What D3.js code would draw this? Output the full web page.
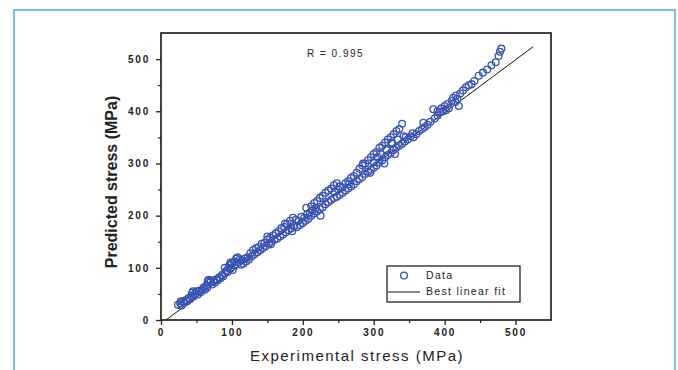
<!DOCTYPE html>
<html><head><meta charset="utf-8">
<script src="https://cdn.jsdelivr.net/npm/d3@7/dist/d3.min.js"></script>
<style>body{margin:0;background:#fff}svg{display:block}</style>
</head><body><svg id="c" width="678" height="370"></svg>
<script>
const expX = [24,27,29,31,33,35,37,39,41,43,44,46,48,50,52,54,56,58,60,
62,64,66,67,69,70,72,74,76,78,80,82,84,86,88,90,92,94,95,97,98,100,101,103,104,106,108,109,111,113,
114,116,118,120,122,124,126,128,130,132,134,136,138,140,142,144,146,148,150,152,154,156,158,160,
162,166,170,174,178,182,186,190,164,168,172,176,180,184,188,192,196,200,204,208,194,198,202,206,210,214,218,
212,216,220,224,228,232,236,240,244,248,252,212,216,220,224,228,232,236,240,244,248,252,256,260,264,268,272,276,280,256,260,264,268,272,276,
280,284,288,292,296,300,304,308,312,316,320,324,328,332,336,340,284,288,292,296,300,304,308,312,316,320,324,328,332,336,340,344,300,310,318,326,334,342,
348,352,356,360,364,368,372,376,380,384,386,390,394,398,400,404,406,410,412,416,418,420,422,
426,430,434,438,442,448,454,460,466,472,476,478,480,
28,45,65,90,98,150,155,175,185,205,225,245,250,265,285,295,305,315,325,330,345,355,370,390,402,415,395];
const predY = [29,32,28,35,33,38,36,42,40,47,52,45,50,55,49,56,53,58,62,
58,66,74,77,72,76,68,75,72,78,76,82,80,86,84,90,94,92,100,106,98,108,96,112,104,118,120,110,116,106,
114,108,118,112,120,116,128,122,134,126,138,130,140,134,146,138,148,142,154,146,158,150,162,154,
166,170,176,178,184,190,196,192,156,160,164,168,172,176,180,178,182,186,190,194,190,198,196,202,206,210,214,
218,224,228,234,238,244,248,252,258,262,256,200,204,208,212,216,222,226,230,234,236,240,244,248,252,256,260,266,270,254,262,266,272,276,282,
290,296,300,306,312,318,322,330,334,340,346,350,356,362,366,376,274,280,284,288,292,296,302,306,312,316,320,326,330,334,338,342,302,318,326,338,346,352,
346,352,350,356,362,366,370,374,380,404,386,392,398,400,410,414,406,420,426,430,424,410,434,
440,446,450,452,458,468,474,480,488,494,506,514,520,
36,55,62,100,110,160,145,185,170,215,200,245,250,260,300,282,312,300,340,318,350,358,378,400,402,418,405];
const fitX = [7, 525];
const fitY = [0, 524];
const xTicks = [0,100,200,300,400,500];
const yTicks = [0,100,200,300,400,500];
const minorTicks = [50,150,250,350,450];
const rLabel = "R = 0.995";
const legendLabels = ["Data","Best linear fit"];

const svg = d3.select("#c");
const L=161, R=551, T=33, B=320;
const x = d3.scaleLinear().domain([0,550]).range([L,R]);
const y = d3.scaleLinear().domain([0,550]).range([B,T]);

svg.append("rect").attr("x",14).attr("y",10).attr("width",661).attr("height",380)
  .attr("fill","none").attr("stroke","#62a8e2").attr("stroke-width",1.6);

const fnt = "Liberation Sans, Arial, sans-serif";

svg.append("rect").attr("x",L).attr("y",T).attr("width",R-L).attr("height",B-T)
  .attr("fill","none").attr("stroke","#222").attr("stroke-width",1.7);

const xa = svg.append("g").attr("transform",`translate(0,${B})`)
  .call(d3.axisBottom(x).tickValues(xTicks).tickSize(5).tickPadding(4).tickFormat(d3.format("d")));
xa.select(".domain").remove();
xa.selectAll("line").attr("stroke","#222").attr("stroke-width",1.3);
xa.selectAll("text").attr("font-family",fnt).attr("font-size",10).attr("font-weight","bold")
  .attr("letter-spacing","1.8px").attr("fill","#222");
const xm = svg.append("g").attr("transform",`translate(0,${B})`)
  .call(d3.axisBottom(x).tickValues(minorTicks).tickSize(3).tickFormat(""));
xm.select(".domain").remove();
xm.selectAll("line").attr("stroke","#222").attr("stroke-width",1.2);

const ya = svg.append("g").attr("transform",`translate(${L},0)`)
  .call(d3.axisLeft(y).tickValues(yTicks).tickSize(5).tickPadding(6).tickFormat(d3.format("d")));
ya.select(".domain").remove();
ya.selectAll("line").attr("stroke","#222").attr("stroke-width",1.3);
ya.selectAll("text").attr("font-family",fnt).attr("font-size",10).attr("font-weight","bold")
  .attr("letter-spacing","1.8px").attr("fill","#222");
const ym = svg.append("g").attr("transform",`translate(${L},0)`)
  .call(d3.axisLeft(y).tickValues(minorTicks).tickSize(3).tickFormat(""));
ym.select(".domain").remove();
ym.selectAll("line").attr("stroke","#222").attr("stroke-width",1.2);

svg.append("line").attr("x1",x(fitX[0])).attr("y1",y(fitY[0])).attr("x2",x(fitX[1])).attr("y2",y(fitY[1]))
  .attr("stroke","#111").attr("stroke-width",1);

const pts = expX.map((v,i)=>[v,predY[i]]);
svg.append("g").selectAll("circle").data(pts).join("circle")
  .attr("cx",d=>x(d[0])).attr("cy",d=>y(d[1])).attr("r",3.4)
  .attr("fill","none").attr("stroke","#3853b2").attr("stroke-width",1.3);

svg.append("text").attr("x",307).attr("y",57).text(rLabel)
  .attr("font-family",fnt).attr("font-size",10).attr("letter-spacing","1.5px").attr("fill","#222");

const lg = svg.append("g");
lg.append("rect").attr("x",387).attr("y",266).attr("width",133).attr("height",36)
  .attr("fill","#fff").attr("stroke","#222").attr("stroke-width",1.3);
lg.append("circle").attr("cx",404).attr("cy",275.5).attr("r",3.4).attr("fill","none")
  .attr("stroke","#3853b2").attr("stroke-width",1.3);
lg.append("line").attr("x1",388).attr("x2",420).attr("y1",292).attr("y2",292).attr("stroke","#111").attr("stroke-width",1);
lg.selectAll("text.l").data(legendLabels).join("text").attr("class","l")
  .attr("x",426).attr("y",(d,i)=>279+i*16).text(d=>d)
  .attr("font-family",fnt).attr("font-size",10.5).attr("letter-spacing","1.3px").attr("fill","#222");

svg.append("text").attr("x",357).attr("y",361).attr("text-anchor","middle").text("Experimental stress (MPa)")
  .attr("font-family",fnt).attr("font-size",15).attr("letter-spacing","1.5px").attr("fill","#222");
svg.append("text").attr("transform","translate(117,182) rotate(-90)").attr("text-anchor","middle")
  .text("Predicted stress (MPa)").attr("font-family",fnt).attr("font-size",16).attr("font-weight","bold").attr("fill","#222");
</script></body></html>
